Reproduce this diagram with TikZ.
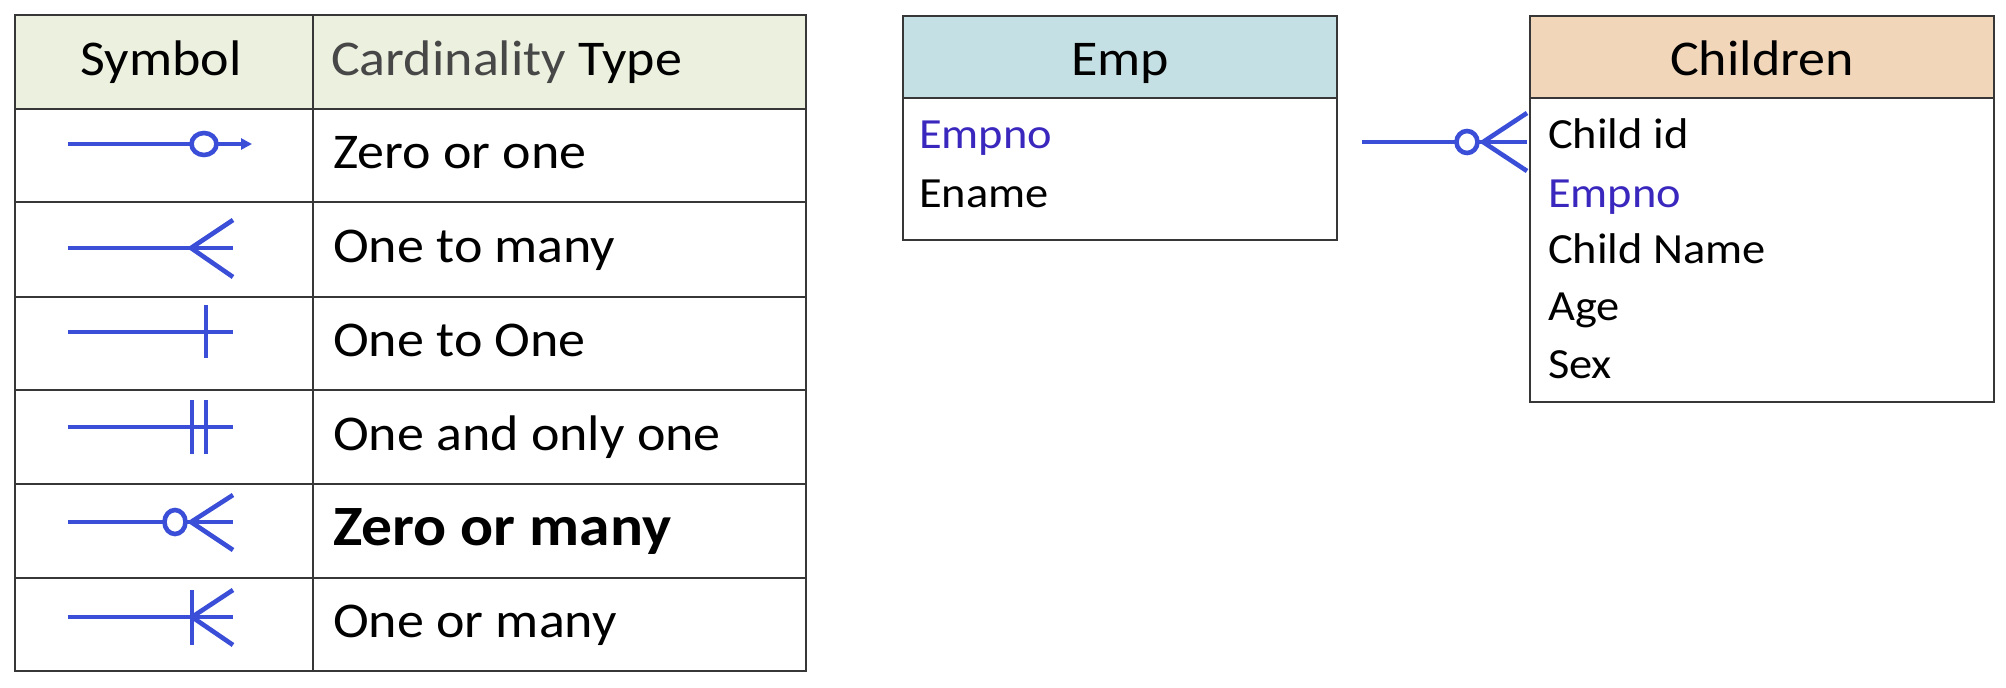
\documentclass[tikz,border=0pt]{standalone}
\usepackage{fontspec}
\setmainfont{Carlito}[FakeStretch=1.08]
\usetikzlibrary{arrows.meta}
\definecolor{symblue}{RGB}{58,78,216}
\definecolor{keyblue}{RGB}{58,40,190}
\definecolor{hdrgreen}{RGB}{235,241,222}
\definecolor{hdrblue}{RGB}{197,224,228}
\definecolor{hdrpeach}{RGB}{241,214,186}
\definecolor{rulegray}{RGB}{55,55,55}
\begin{document}
\begin{tikzpicture}[x=1pt,y=-1pt,
  sym/.style={draw=symblue, line width=4.6pt},
  gridline/.style={draw=rulegray, line width=2.2pt},
  cell/.style={anchor=base west, inner sep=0pt, font=\fontsize{50}{60}\selectfont},
  attr/.style={anchor=base west, inner sep=0pt, font=\fontsize{43}{52}\selectfont},
  title/.style={anchor=base, inner sep=0pt, font=\fontsize{50}{60}\selectfont}]
\useasboundingbox (0,0) rectangle (2006,688);
\fill[white] (0,0) rectangle (2006,688);

% ---- legend table ----
\fill[hdrgreen] (15,15) rectangle (806,109);
\foreach \y in {109,202,297,390,484,578} \draw[gridline] (15,\y) -- (806,\y);
\draw[gridline] (313,15) -- (313,671);
\draw[gridline] (15,15) rectangle (806,671);

\node[title] (hsym) at (161,75) {Symbol};
\node[cell] (htype) at (331,75) {\textcolor{black!72}{Cardinality} Type};
\node[cell] (t1) at (333,168) {Zero or one};
\node[cell] (t2) at (333,262) {One to many};
\node[cell] (t3) at (333,356) {One to One};
\node[cell] (t4) at (333,450) {One and only one};
\node[cell, font=\fontsize{57}{66}\selectfont\bfseries] (t5) at (333,545) {Zero or many};
\node[cell] (t6) at (333,637) {One or many};

% row 1: zero or one
\coordinate (a1) at (68,144); \coordinate (c1) at (204,144); \coordinate (b1) at (252,144);
\draw[sym] (a1) -- (191.5,144);
\draw[sym] (c1) ellipse [x radius=12.5, y radius=11];
\draw[sym, -{Triangle[length=11pt,width=11pt]}] (216.5,144) -- (b1);
% row 2: one to many
\coordinate (a2) at (68,248); \coordinate (b2) at (233,248);
\draw[sym] (a2) -- (b2);
\draw[sym] (233,220) -- (191,248) -- (233,277);
% row 3: one to one
\coordinate (a3) at (68,332); \coordinate (b3) at (233,332);
\draw[sym] (a3) -- (b3);
\draw[sym] (206,305) -- (206,358);
% row 4: one and only one
\coordinate (a4) at (68,427); \coordinate (b4) at (233,427);
\draw[sym] (a4) -- (b4);
\draw[sym] (192,400) -- (192,454);
\draw[sym] (206,400) -- (206,454);
% row 5: zero or many
\coordinate (a5) at (68,522); \coordinate (c5) at (175,522); \coordinate (b5) at (233,522);
\draw[sym] (a5) -- (164.5,522);
\draw[sym] (c5) ellipse [x radius=10.5, y radius=12];
\draw[sym] (185.5,522) -- (b5);
\draw[sym] (233,495) -- (191,522) -- (233,550);
% row 6: one or many
\coordinate (a6) at (68,617); \coordinate (b6) at (233,617);
\draw[sym] (a6) -- (b6);
\draw[sym] (192,590) -- (192,645);
\draw[sym] (233,590) -- (192,617) -- (233,645);

% ---- Emp entity ----
\fill[hdrblue] (903,16) rectangle (1337,98);
\draw[gridline] (903,98) -- (1337,98);
\draw[gridline] (903,16) rectangle (1337,240);
\node[title] (emp) at (1120,75) {Emp};
\node[attr, text=keyblue] (empno) at (919,148) {Empno};
\node[attr] (ename) at (919,207) {Ename};

% ---- Children entity ----
\fill[hdrpeach] (1530,16) rectangle (1994,98);
\draw[gridline] (1530,98) -- (1994,98);
\draw[gridline] (1530,16) rectangle (1994,402);
\node[title] (children) at (1762,75) {Children};
\node[attr] (cid) at (1548,148) {Child id};
\node[attr, text=keyblue] (cempno) at (1548,207) {Empno};
\node[attr] (cname) at (1548,263) {Child Name};
\node[attr] (cage) at (1548,320) {Age};
\node[attr] (csex) at (1548,378) {Sex};

% ---- relationship: zero or many ----
\coordinate (rs) at (1362,142);
\coordinate (rc) at (1467,142);
\coordinate (re) at (1527,142);
\draw[sym] (rs) -- (1456.5,142);
\draw[sym] (rc) ellipse [x radius=10.5, y radius=11];
\draw[sym] (1477.5,142) -- (re);
\draw[sym] (1527,113) -- (1483,142) -- (1527,171);
\end{tikzpicture}
\end{document}
